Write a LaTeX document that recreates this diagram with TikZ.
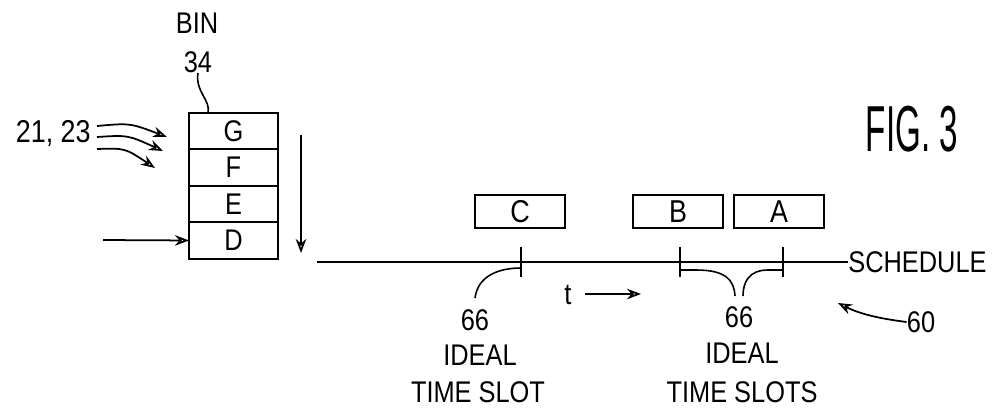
\documentclass[tikz,border=0pt]{standalone}
\usepackage{fontspec}
\setmainfont{Liberation Sans}[FakeStretch=0.85]
\usetikzlibrary{arrows.meta,positioning,calc}

\tikzset{
  lbl/.style={font=\fontsize{17}{19}\selectfont, inner sep=0pt},
  cell/.style={draw, line width=1pt, minimum width=1.78cm, minimum height=0.73cm,
    inner sep=0pt, outer sep=0pt, font=\fontsize{17}{19}\selectfont},
  slot/.style={draw, line width=1pt, minimum width=1.8cm, minimum height=0.66cm,
    inner sep=0pt, font=\fontsize{18}{20}\selectfont},
  arrowline/.style={line width=1pt, -{Stealth[open,length=8pt,width=6pt]}},
  lead/.style={line width=0.9pt}
}

\begin{document}
\begin{tikzpicture}[x=0.02cm,y=-0.02cm]
\useasboundingbox (0,0) rectangle (1002,413);

% bin 34 with its four cells
\node[lbl] (bin) at (197,23) {BIN};
\node[lbl] (n34) at (198,62) {34};
\node[cell] (g) at (233.5,131) {G};
\node[cell, below=0pt of g] (f) {F};
\node[cell, below=0pt of f] (e) {E};
\node[cell, below=0pt of e] (d) {D};
\coordinate (bintop) at (208,113);
\draw[lead] (n34.south) .. controls (195,92) and (211,100) .. (bintop);

% incoming items 21, 23
\node[lbl, anchor=east, font=\fontsize{18}{20}\selectfont] (n2123) at (91,133) {21, 23};
\coordinate (in1a) at (97,126);  \coordinate (in1b) at (167,137);
\coordinate (in2a) at (97,137);  \coordinate (in2b) at (163,151);
\coordinate (in3a) at (97,149);  \coordinate (in3b) at (155,168);
\draw[arrowline] (in1a) .. controls (130,123) .. (in1b);
\draw[arrowline] (in2a) .. controls (128,135) .. (in2b);
\draw[arrowline] (in3a) .. controls (125,148) .. (in3b);
\coordinate (ind) at (103,240);
\draw[arrowline] (ind) -- (d.west);

% order of output
\coordinate (dn1) at (301,135); \coordinate (dn2) at (301,253);
\draw[arrowline] (dn1) -- (dn2);

% schedule 60
\coordinate (s0) at (317,262);
\node[lbl, anchor=west] (sched) at (848,262) {SCHEDULE};
\draw[line width=1pt] (s0) -- (sched.west);

\node[slot] (c) at (520,211.5) {C};
\node[slot] (b) at (678,211.5) {B};
\node[slot] (a) at (779,211.5) {A};

\foreach \x/\n in {521/c,680/b,783/a}{
  \coordinate (t\n) at (\x,262);
  \draw[line width=1pt] ($(t\n)+(0,-15)$) -- ($(t\n)+(0,15)$);
}

% ideal time slot labels
\node[lbl] (l66) at (475,320) {66};
\node[lbl] (lideal) at (480,355) {IDEAL};
\node[lbl] (lslot) at (478,392) {TIME SLOT};
\coordinate (lc) at (475,298);
\draw[lead] (lc) .. controls (478,275) and (500,268) .. ($(tc)+(0,6)$);

\node[lbl] (r66) at (739,317) {66};
\node[lbl] (rideal) at (742,353) {IDEAL};
\node[lbl] (rslot) at (742,392) {TIME SLOTS};
\coordinate (rb) at (735,296); \coordinate (ra) at (743,296);
\draw[lead] ($(tb)+(0,8)$) -- (696,270) .. controls (726,270) and (734,280) .. (rb);
\draw[lead] ($(ta)+(0,8)$) -- (768,270) .. controls (749,270) and (743,282) .. (ra);

% time direction
\node[lbl] (t) at (568,295) {t};
\coordinate (tt1) at (585,294); \coordinate (tt2) at (641,294);
\draw[arrowline] (tt1) -- (tt2);

\node[lbl] (n60) at (921,322) {60};
\coordinate (p60) at (838,303);
\draw[arrowline] (n60.west) .. controls (875,318) and (858,313) .. (p60);

\node[font=\fontsize{37}{40}\selectfont, inner sep=0pt] (fig) at (912,129)
  {\scalebox{0.6}[1]{FIG.\ 3}};

\end{tikzpicture}
\end{document}
